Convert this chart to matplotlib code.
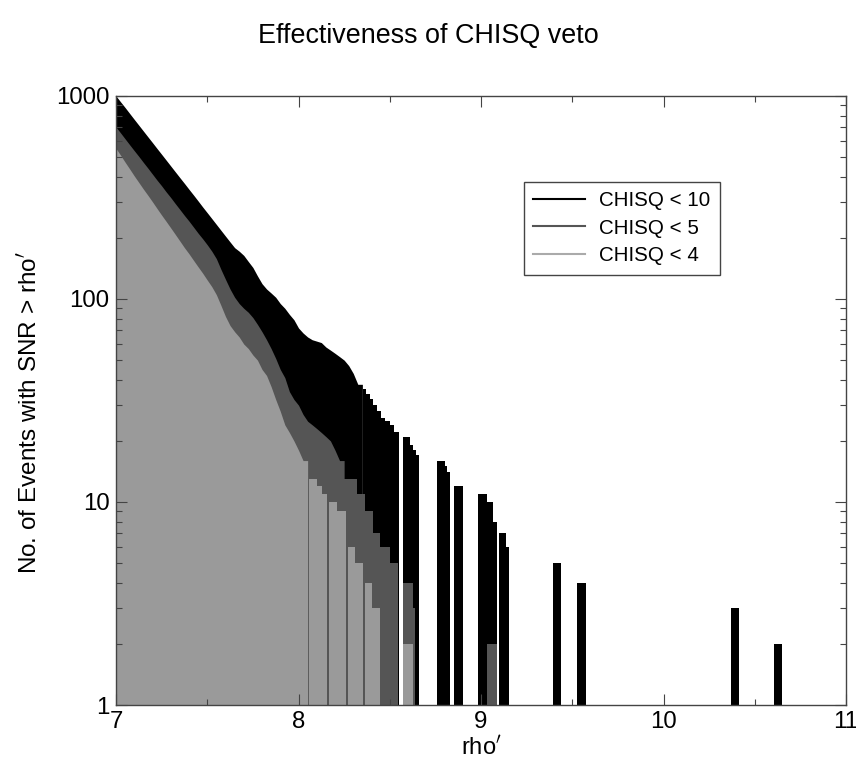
import numpy as np
import matplotlib
matplotlib.use("Agg")
import matplotlib.pyplot as plt
from matplotlib.lines import Line2D

plt.rcParams['font.family'] = ['Liberation Sans', 'DejaVu Sans']

# Cumulative number of events with SNR > rho'.
# Dense part: values every 0.025 in rho' starting at 7.0
STEP = 0.025

chisq10_fine = [1000, 936, 877, 820, 767, 718, 672, 629, 589, 551,
                516, 483, 452, 423, 396, 371, 347, 325, 304, 284,
                266, 249, 233, 218, 204, 191, 179, 172, 164, 153,
                143, 130, 119, 112, 107, 102, 95, 90, 84, 79,
                72, 68, 65, 63, 62, 61, 58, 56, 54, 52,
                50, 47, 43, 38]
chisq10_tail_edges = [8.350, 8.355, 8.370, 8.390, 8.410, 8.430, 8.450, 8.475, 8.500,
                      8.525, 8.550, 8.575, 8.610, 8.630, 8.645, 8.662, 8.757, 8.800,
                      8.815, 8.830, 8.854, 8.904, 8.985, 9.031, 9.064, 9.090, 9.096,
                      9.137, 9.155, 9.393, 9.438, 9.528, 9.575, 10.368, 10.416,
                      10.607, 10.647]
chisq10_tail_counts = [0, 36, 34, 32, 30, 28, 26, 25, 24, 22, 0, 21, 19, 18, 17, 0,
                       16, 15, 14, 0, 12, 0, 11, 10, 8, 0, 7, 6, 0, 5, 0, 4, 0, 3, 0, 2]

chisq5_fine = [703, 658, 615, 575, 538, 504, 471, 441, 412, 385,
               361, 337, 316, 295, 276, 258, 242, 226, 211, 198,
               185, 172, 158, 140, 125, 112, 102, 95, 90, 86,
               81, 75, 69, 63, 57, 51, 45, 41, 35, 32,
               30, 27, 25, 24, 23, 22, 21, 20, 18, 16]
chisq5_tail_edges = [8.250, 8.319, 8.364, 8.410, 8.447, 8.501, 8.547, 8.574, 8.629,
                     8.638, 9.035, 9.090]
chisq5_tail_counts = [13, 11, 9, 7, 6, 5, 0, 4, 3, 0, 2]

chisq4_fine = [552, 511, 472, 437, 404, 375, 348, 324, 301, 279,
               259, 241, 224, 208, 193, 179, 167, 155, 144, 134,
               124, 115, 105, 93, 82, 74, 69, 65, 60, 57,
               53, 50, 45, 42, 37, 32, 28, 24, 22, 20,
               18, 16]
chisq4_tail_edges = [8.050, 8.059, 8.103, 8.130, 8.155, 8.169, 8.209, 8.260, 8.273,
                     8.310, 8.355, 8.364, 8.401, 8.447, 8.574, 8.626]
chisq4_tail_counts = [0, 13, 12, 11, 0, 10, 9, 0, 6, 5, 0, 4, 3, 0, 2]

labels = ["CHISQ < 10", "CHISQ < 5", "CHISQ < 4"]
colors = ["#000000", "#555555", "#9a9a9a"]
legend_colors = ["#000000", "#555555", "#aaaaaa"]

fine_sets = [chisq10_fine, chisq5_fine, chisq4_fine]
tail_sets = [(chisq10_tail_edges, chisq10_tail_counts),
             (chisq5_tail_edges, chisq5_tail_counts),
             (chisq4_tail_edges, chisq4_tail_counts)]

fig = plt.figure(figsize=(8.56, 7.63), dpi=100)
ax = fig.add_axes([116 / 856, 1 - 705 / 763, 730 / 856, 609 / 763])
ax.set_yscale("log")

for fine, (t_edges, t_counts), c in zip(fine_sets, tail_sets, colors):
    # dense region: many small steps, drawn as a smooth edge
    x = 7.0 + STEP * np.arange(len(fine) + 1)
    y = np.append(fine, fine[-1])
    ax.fill_between(x, 1, y, color=c, linewidth=0)
    # sparse region: individual steps, empty bins sit on the baseline
    t_counts = np.asarray(t_counts, dtype=float)
    ax.stairs(np.where(t_counts > 0, t_counts, 1), t_edges, baseline=1, fill=True,
              color=c, linewidth=0)

ax.set_xlim(7, 11)
ax.set_ylim(1, 1000)
ax.set_xticks([7, 8, 9, 10, 11])
ax.set_xticks([7.5, 8.5, 9.5, 10.5], minor=True)
ax.set_yticks([1, 10, 100, 1000])
ax.set_yticklabels(["1", "10", "100", "1000"])
ax.tick_params(which="both", direction="in", top=True, right=True,
               labelsize=17.3, color="#444444", width=0.8)
ax.tick_params(which="major", length=8, pad=4.5)
ax.tick_params(which="minor", length=4)
for s in ax.spines.values():
    s.set_color("#444444")
    s.set_linewidth(1.0)

ax.set_xlabel(r"rho$^\prime$", fontsize=17)
ax.set_ylabel(r"No. of Events with SNR > rho$^\prime$", fontsize=17.5)
ax.xaxis.set_label_coords(0.5, -0.05)
ax.yaxis.set_label_coords(-0.102, 0.48)

fig.text(0.5, 1 - 36 / 763, "Effectiveness of CHISQ veto", ha="center", va="center",
         fontsize=19.4)

handles = [Line2D([], [], color=c, lw=1.5) for c in legend_colors]
leg = ax.legend(handles, labels, loc="upper left", bbox_to_anchor=(0.545, 0.876),
                fontsize=14.8, handlelength=2.5, handletextpad=0.7, labelspacing=0.42,
                borderpad=0.45, fancybox=False, framealpha=1, edgecolor="#444444")
leg.get_frame().set_linewidth(1.0)

fig.savefig("out.png", dpi=100)
